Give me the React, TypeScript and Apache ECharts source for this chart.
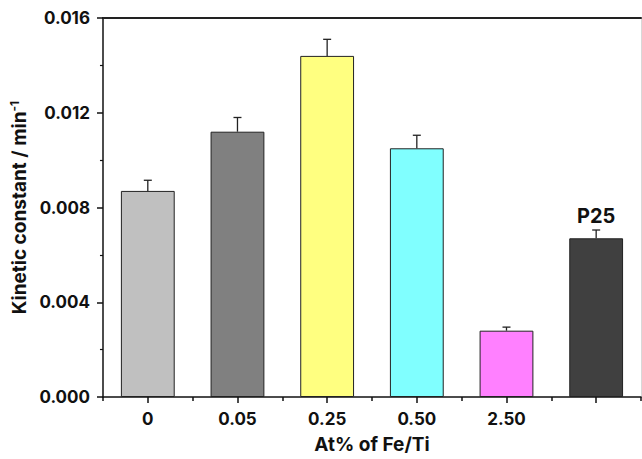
import React, { useEffect, useRef } from "react";
import * as echarts from "echarts";

// Fe-doped TiO2 samples (Fe/Ti at%) plus the P25 reference
const categories = ["0", "0.05", "0.25", "0.50", "2.50", "P25"];
const kValues = [0.0087, 0.0112, 0.0144, 0.0105, 0.0028, 0.0067];
const kErrors = [0.00045, 0.0006, 0.0007, 0.00055, 0.00015, 0.00035];
const barColors = ["#c0c0c0", "#808080", "#ffff80", "#80ffff", "#ff80ff", "#404040"];
const yTicks = { min: 0, max: 0.016, interval: 0.004 };

const FONT = "Inter, 'Liberation Sans', Arial, sans-serif";
const INK = "#111111";

export default function App() {
  const ref = useRef<HTMLDivElement>(null);

  useEffect(() => {
    if (!ref.current) return;
    const chart = echarts.init(ref.current, null, { renderer: "svg" });

    const lastIdx = categories.length - 1;

    chart.setOption({
      animation: false,
      backgroundColor: "#ffffff",
      grid: { left: 102, right: 1, top: 18, bottom: 61, containLabel: false },
      xAxis: [
        {
          type: "category",
          data: categories,
          position: "bottom",
          name: "At% of Fe/Ti",
          nameLocation: "middle",
          nameGap: 38,
          nameTextStyle: { fontFamily: FONT, fontSize: 19, fontWeight: "bold", color: INK },
          axisLine: { show: true, lineStyle: { color: INK, width: 1.5 } },
          axisTick: { show: true, alignWithLabel: true, length: 6, lineStyle: { color: INK, width: 1.5 } },
          axisLabel: {
            margin: 13,
            fontFamily: FONT,
            fontSize: 17,
            fontWeight: "bold",
            color: INK,
            formatter: (v: string, i: number) => (i === lastIdx ? "" : v),
          },
          splitLine: { show: false },
        },
        {
          // boundary (minor) ticks between categories
          type: "category",
          data: categories,
          position: "bottom",
          axisLine: { show: false },
          axisTick: { show: true, alignWithLabel: false, length: 4, lineStyle: { color: INK, width: 1.5 } },
          axisLabel: { show: false },
          splitLine: { show: false },
        },
        {
          // top frame line
          type: "category",
          data: categories,
          position: "top",
          axisLine: { show: true, lineStyle: { color: "#222", width: 2 } },
          axisTick: { show: false },
          axisLabel: { show: false },
          splitLine: { show: false },
        },
      ],
      yAxis: [
        {
          type: "value",
          min: yTicks.min,
          max: yTicks.max,
          interval: yTicks.interval,
          position: "left",
          name: "{a|Kinetic constant / min}{b|-1}",
          nameLocation: "middle",
          nameRotate: 90,
          nameGap: 64,
          nameTextStyle: {
            rich: {
              a: { fontFamily: FONT, fontSize: 19, fontWeight: "bold", color: INK, lineHeight: 22 },
              b: { fontFamily: FONT, fontSize: 12, fontWeight: "bold", color: INK, verticalAlign: "top", lineHeight: 22 },
            },
          },
          axisLine: { show: true, lineStyle: { color: INK, width: 1.5 } },
          axisTick: { show: true, inside: false, length: 6, lineStyle: { color: INK, width: 1.5 } },
          minorTick: { show: true, splitNumber: 2, length: 3, lineStyle: { color: INK, width: 1.2 } },
          axisLabel: {
            margin: 13,
            fontFamily: FONT,
            fontSize: 17,
            fontWeight: "bold",
            color: INK,
            formatter: (v: number) => v.toFixed(3),
          },
          splitLine: { show: false },
        },
        {
          // right frame line
          type: "value",
          min: yTicks.min,
          max: yTicks.max,
          interval: yTicks.interval,
          position: "right",
          axisLine: { show: true, lineStyle: { color: "#d8d8d8", width: 1 } },
          axisTick: { show: false },
          axisLabel: { show: false },
          splitLine: { show: false },
        },
      ],
      series: [
        {
          type: "bar",
          xAxisIndex: 0,
          yAxisIndex: 0,
          barWidth: "60%",
          data: kValues.map((v, i) => ({
            value: v,
            itemStyle: { color: barColors[i], borderColor: "#222", borderWidth: 1 },
            label:
              i === lastIdx
                ? {
                    show: true,
                    position: "top",
                    distance: 12,
                    formatter: "{b}",
                    fontFamily: FONT,
                    fontSize: 20,
                    fontWeight: "bold",
                    color: INK,
                  }
                : { show: false },
          })),
        },
        {
          // upper error bars
          type: "custom",
          xAxisIndex: 0,
          yAxisIndex: 0,
          encode: { x: 0, y: 1 },
          data: kValues.map((v, i) => [i, v, kErrors[i]]),
          renderItem: (params: any, api: any) => {
            const idx = api.value(0);
            const v = api.value(1);
            const e = api.value(2);
            const base = api.coord([idx, v]);
            const top = api.coord([idx, v + e]);
            const hw = 4;
            const style = { stroke: "#222", lineWidth: 1.3 };
            return {
              type: "group",
              children: [
                { type: "line", shape: { x1: base[0], y1: base[1], x2: top[0], y2: top[1] }, style },
                { type: "line", shape: { x1: top[0] - hw, y1: top[1], x2: top[0] + hw, y2: top[1] }, style },
              ],
            };
          },
          z: 3,
        },
      ],
    });

    return () => chart.dispose();
  }, []);

  return (
    <div
      ref={ref}
      style={{ position: "fixed", left: 0, top: 0, width: 642, height: 459, background: "#fff" }}
    />
  );
}
